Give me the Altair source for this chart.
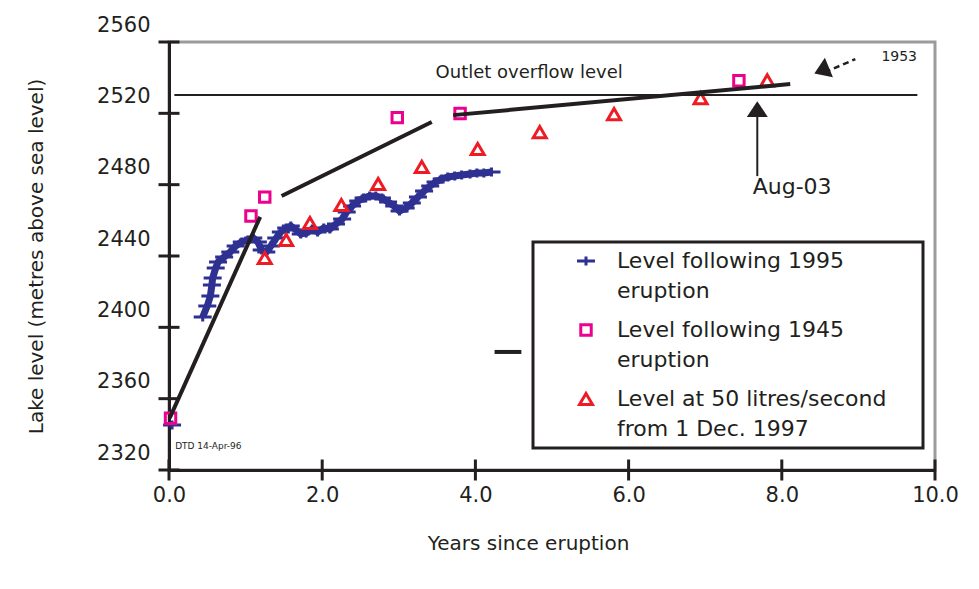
import altair as alt
import pandas as pd

# ---------------- data ----------------
# Level following 1995 eruption (blue crosses)
blue_x = [0.04, 0.44, 0.50, 0.54, 0.56, 0.57, 0.61, 0.64, 0.72, 0.80,
          0.87, 0.95, 1.03, 1.10, 1.16, 1.21, 1.27, 1.33, 1.40, 1.46,
          1.53, 1.59, 1.66, 1.72, 1.79, 1.87, 1.94, 2.02, 2.10, 2.18,
          2.26, 2.32, 2.39, 2.47, 2.54, 2.62, 2.70, 2.78, 2.86, 2.94,
          3.01, 3.09, 3.17, 3.25, 3.33, 3.41, 3.48, 3.56, 3.64, 3.73,
          3.82, 3.93, 4.02, 4.11, 4.21]
blue_y = [2345.2, 2405.8, 2412.0, 2417.6, 2423.7, 2427.7, 2433.3, 2436.6, 2439.4, 2442.2,
          2445.6, 2447.9, 2449.0, 2450.1, 2447.9, 2443.4, 2442.2, 2445.6, 2450.1, 2453.5,
          2455.7, 2456.8, 2454.6, 2452.3, 2452.9, 2455.1, 2453.5, 2455.7, 2455.1, 2457.9,
          2460.7, 2464.7, 2468.0, 2470.8, 2472.5, 2473.6, 2473.6, 2472.5, 2470.3, 2468.0,
          2465.2, 2466.9, 2469.7, 2473.1, 2476.4, 2479.3, 2481.5, 2483.2, 2484.3, 2484.9,
          2485.4, 2486.0, 2486.5, 2486.5, 2487.1]
blue_seg = [0] + [1] * (len(blue_x) - 1)

# Level following 1945 eruption (magenta squares)
mag_x = [0.02, 1.07, 1.25, 2.98, 3.80, 7.44]
mag_y = [2349.0, 2462.4, 2473.0, 2517.6, 2519.9, 2538.3]

# Level at 50 litres/second from 1 Dec. 1997 (red triangles)
red_x = [1.25, 1.53, 1.84, 2.25, 2.73, 3.30, 4.03, 4.84, 5.81, 6.94, 7.81]
red_y = [2438.9, 2449.0, 2458.5, 2468.6, 2480.4, 2490.0, 2500.0, 2509.5, 2519.6, 2528.5, 2538.5]

# black trend lines
trend_grp = ["a", "a", "b", "b", "c", "c"]
trend_x = [0.01, 1.19, 1.47, 3.43, 3.71, 8.11]
trend_y = [2349.2, 2461.9, 2473.6, 2515.1, 2519.0, 2536.4]

overflow_level = 2530.3
overflow_x = [0.07, 9.77]

dash_x = [4.25, 4.60]
dash_y = 2386.2

series_names = ["Level following 1995 eruption",
                "Level following 1945 eruption",
                "Level at 50 litres/second from 1 Dec. 1997"]
legend_lines = [["Level following 1995", "eruption"],
                ["Level following 1945", "eruption"],
                ["Level at 50 litres/second    \u200b", "from 1 Dec. 1997"]]
series_colors = ["#2e3192", "#ec008c", "#ed1c24"]
series_shapes = ["M-1,0H1M0,-0.5V0.5",
                 "M-0.58,-0.58H0.58V0.58H-0.58Z",
                 "M0,-0.62L0.72,0.62L-0.72,0.62Z"]

y_ticks = [2320, 2360, 2400, 2440, 2480, 2520, 2560]
x_ticks = [0, 2, 4, 6, 8, 10]

# annotations
aug_x = 7.68
aug_y0, aug_y1 = 2484.8, 2522.4
tr_x = [8.56, 8.96]
tr_y = [2543.0, 2550.4]
tr_head = (8.52, 2544.0)

texts = pd.DataFrame({
    "x": [3.48, 7.62, 9.30, 0.08],
    "y": [2542.6, 2478.7, 2551.6, 2333.5],
    "t": ["Outlet overflow level", "Aug-03", "1953", "DTD 14-Apr-96"],
    "size": [18, 22, 14, 9],
})

BLACK = "#231f20"
FONT = "DejaVu Sans"

# ---------------- build ----------------
pts = pd.concat([
    pd.DataFrame({"x": blue_x, "y": blue_y, "series": series_names[0]}),
    pd.DataFrame({"x": mag_x, "y": mag_y, "series": series_names[1]}),
    pd.DataFrame({"x": red_x, "y": red_y, "series": series_names[2]}),
])
blue_df = pd.DataFrame({"x": blue_x, "y": blue_y, "seg": blue_seg})
blue_df = blue_df[blue_df.seg == 1]
trend_df = pd.DataFrame({"x": trend_x, "y": trend_y, "g": trend_grp})

xscale = alt.Scale(domain=[0, 10], nice=False, zero=False)
yscale = alt.Scale(domain=[2320, 2560], nice=False, zero=False)

label_expr = "''"
for name, lines in reversed(list(zip(series_names, legend_lines))):
    arr = "[" + ", ".join("'" + s + "'" for s in lines) + "]"
    label_expr = f"datum.label == '{name}' ? {arr} : {label_expr}"

legend = alt.Legend(
    title=None, orient="none", legendX=364, legendY=200,
    strokeColor=BLACK, fillColor="white", padding=8,
    symbolOffset=34, labelOffset=20, rowPadding=16,
    labelFontSize=22, labelFont=FONT, labelColor=BLACK, labelLimit=400,
    symbolStrokeWidth=3, symbolSize=324, labelExpr=label_expr,
)

xaxis = alt.Axis(values=x_ticks, format=".1f", ticks=False, grid=False,
                 domainColor=BLACK, domainWidth=3, labelFontSize=21,
                 labelColor=BLACK, labelPadding=14, labelFlush=False,
                 title="Years since eruption", titleFontSize=20,
                 titleFontWeight="normal", titleColor=BLACK,
                 titleX=359, titleY=73, titleBaseline="middle")
yaxis = alt.Axis(values=y_ticks, format="d", ticks=False, grid=False,
                 domainColor=BLACK, domainWidth=3, labelFontSize=21,
                 labelColor=BLACK, labelPadding=19, labelOffset=-17,
                 labelFlush=False,
                 title="Lake level (metres above sea level)", titleFontSize=20,
                 titleFontWeight="normal", titleColor=BLACK,
                 titleX=-133, titleY=214, titleBaseline="middle",
                 titleAlign="center")

blue_line = alt.Chart(blue_df).mark_line(color="#2e3192", strokeWidth=7).encode(
    x=alt.X("x:Q", scale=xscale, axis=xaxis),
    y=alt.Y("y:Q", scale=yscale, axis=yaxis),
)

points = alt.Chart(pts).mark_point(filled=False, strokeWidth=3, size=324, opacity=1).encode(
    x=alt.X("x:Q", scale=xscale),
    y=alt.Y("y:Q", scale=yscale),
    color=alt.Color("series:N", scale=alt.Scale(domain=series_names, range=series_colors),
                    legend=legend),
    shape=alt.Shape("series:N", scale=alt.Scale(domain=series_names, range=series_shapes),
                    legend=legend),
)

trend = alt.Chart(trend_df).mark_line(color=BLACK, strokeWidth=4).encode(
    x="x:Q", y="y:Q", detail="g:N")

overflow = alt.Chart(pd.DataFrame({"x": [overflow_x[0]], "x2": [overflow_x[1]],
                                   "y": [overflow_level]})).mark_rule(
    color=BLACK, strokeWidth=2).encode(x="x:Q", x2="x2:Q", y="y:Q")

dash = alt.Chart(pd.DataFrame({"x": [dash_x[0]], "x2": [dash_x[1]], "y": [dash_y]})).mark_rule(
    color=BLACK, strokeWidth=4).encode(x="x:Q", x2="x2:Q", y="y:Q")

aug_rule = alt.Chart(pd.DataFrame({"x": [aug_x], "y": [aug_y0], "y2": [aug_y1]})).mark_rule(
    color=BLACK, strokeWidth=2).encode(x="x:Q", y="y:Q", y2="y2:Q")
head_path = "M0,-0.75L1,0.75L-1,0.75Z"
aug_head = alt.Chart(pd.DataFrame({"x": [aug_x], "y": [aug_y1]})).mark_point(
    shape=head_path, filled=True, color=BLACK, size=441, opacity=1).encode(x="x:Q", y="y:Q")

tr_rule = alt.Chart(pd.DataFrame({"x": [tr_x[0]], "x2": [tr_x[1]], "y": [tr_y[0]], "y2": [tr_y[1]]})).mark_rule(
    color=BLACK, strokeWidth=2.5, strokeDash=[6, 4]).encode(x="x:Q", x2="x2:Q", y="y:Q", y2="y2:Q")
tr_head_m = alt.Chart(pd.DataFrame({"x": [tr_head[0]], "y": [tr_head[1]]})).mark_point(
    shape=head_path, filled=True, color=BLACK, size=441, opacity=1, angle=247.5).encode(x="x:Q", y="y:Q")

text_layer = alt.Chart(texts).mark_text(align="left", baseline="middle", color=BLACK, font=FONT).encode(
    x="x:Q", y="y:Q", text="t:N",
    size=alt.Size("size:Q", scale=None, legend=None))

ytick_layer = alt.Chart(pd.DataFrame({"v": y_ticks})).mark_tick(
    orient="horizontal", size=21, thickness=3, color=BLACK, opacity=1).encode(
    y="v:Q", x=alt.datum(0))
xtick_layer = alt.Chart(pd.DataFrame({"v": x_ticks})).mark_tick(
    orient="vertical", size=21, thickness=3, color=BLACK, opacity=1).encode(
    x="v:Q", y=alt.datum(2320))

chart = alt.layer(
    blue_line, points, trend, overflow, dash, aug_rule, aug_head, tr_rule, tr_head_m,
    text_layer, ytick_layer, xtick_layer,
).properties(
    width=766, height=428,
    autosize=alt.AutoSizeParams(type="none"),
    padding={"left": 161, "top": 34, "right": 30, "bottom": 90},
).configure(
    font=FONT, style={"guide-label": {"lineHeight": 30}}
).configure_view(
    stroke="#9b9b9d", strokeWidth=3
).configure_legend(strokeWidth=3)

chart.save("out.html", embed_options={"renderer": "svg", "actions": False})
